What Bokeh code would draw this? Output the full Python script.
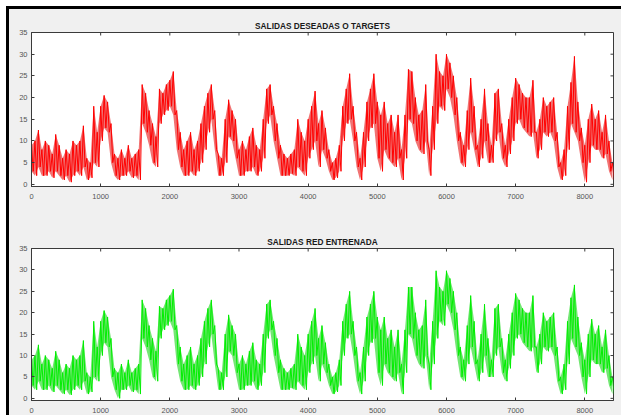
from bokeh.plotting import figure
from bokeh.layouts import column
from bokeh.models import Range1d, LinearAxis, FixedTicker, Title
from bokeh.embed import file_html
from bokeh.resources import INLINE

# Sample index step of the min/max readings (each bin: max, then min)
STEP = 50
X_MAX = 8415
Y_MIN, Y_MAX = -0.5, 35
x_ticks = [0, 1000, 2000, 3000, 4000, 5000, 6000, 7000, 8000]
y_ticks = [0, 5, 10, 15, 20, 25, 30, 35]

# SALIDAS DESEADAS O TARGETS (red) - per-bin max and min, x = 0, 50, ..., 8400
target_hi = [
    9, 10, 12.5, 8, 10, 9, 7, 11.5, 9, 6,
    8, 7, 10, 9, 10, 13.5, 6, 5, 18, 12,
    18, 20.5, 19, 14, 7, 6, 8, 6, 9, 6,
    7, 8, 23, 21, 17, 14, 11, 22, 21, 23,
    24, 26, 17, 12, 8, 10, 12, 8, 10, 14,
    18, 21, 23, 17, 7, 6, 15, 19.5, 17, 15,
    8, 10, 8, 11, 13, 9, 8, 15, 22, 23,
    18, 14, 9, 7, 6, 7, 8, 15, 12, 10,
    15, 18, 21.5, 14, 17, 13, 8, 5, 6, 9,
    18, 22, 25.5, 18, 12, 6, 12, 19, 22, 25.5,
    19, 16, 19, 14, 16, 12, 16, 8, 16, 26.5,
    26, 20, 16, 17, 23, 8, 18, 30, 26, 25,
    30, 28, 25, 20, 12, 9, 17, 24.5, 18, 9,
    15, 22, 14, 9, 21, 22, 14, 9, 15, 20,
    24.5, 23, 21, 20, 20, 24, 12, 15, 20, 18,
    19, 20, 12, 5, 8, 18, 23.5, 29.5, 19, 13,
    9, 15, 18.5, 15, 17, 12, 16, 10, 5,
]
target_lo = [
    3, 2, 4, 2, 2, 3, 1.5, 3, 2, 1,
    2, 0.5, 2, 3, 2, 4, 1, 1.5, 5, 4,
    10, 13, 12, 5, 2, 1, 2, 2, 3, 1.5,
    2, 1, 14, 12, 9, 5, 4, 14, 16, 17,
    18, 16, 8, 4, 2, 2, 3, 2, 3, 5,
    8, 12, 15, 8, 2, 2, 5, 11, 10, 6,
    2, 2, 3, 3, 4, 2, 3, 6, 14, 16,
    10, 6, 2, 2, 2, 2.5, 2, 4, 3, 2,
    6, 8, 10, 4, 8, 6, 3, 1, 1.5, 3,
    10, 14, 15, 10, 4, 1, 4, 10, 13, 14,
    6, 3, 8, 6, 5, 4, 6, 1, 6, 15,
    14, 10, 8, 7, 10, 2, 8, 14, 18, 17,
    22, 20, 16, 10, 5, 4, 8, 12, 8, 4,
    6, 10, 5, 5, 10, 12, 6, 4, 7, 10,
    14, 15, 13, 12, 11, 12, 6, 8, 12, 11,
    12, 10, 4, 1, 2, 8, 14, 12, 10, 5,
    0.5, 5, 9, 8, 8, 6, 7, 3, 1,
]

# SALIDAS RED ENTRENADA (green) - per-bin max and min
output_hi = [
    9, 10, 12.5, 8, 10, 9, 7, 11, 9, 6,
    8, 7, 10, 9, 10, 13.5, 6, 5, 18, 12,
    18, 20.5, 19, 14, 7, 6, 8, 6, 9, 6,
    7, 8, 23, 21, 17, 14, 11, 21.5, 21, 23,
    24, 25.5, 17, 12, 8, 10, 12, 8, 10, 14,
    18, 21, 23, 17, 7, 6, 15, 19.5, 17, 15,
    8, 10, 8, 11, 13, 9, 8, 15, 22, 23,
    18, 14, 9, 7, 6, 7, 8, 15, 12, 10,
    15, 18, 21, 14, 17, 13, 8, 5, 6, 9,
    18, 22, 25, 18, 12, 6, 12, 19, 22, 25,
    19, 16, 19, 14, 16, 12, 16, 8, 16, 26,
    26, 20, 16, 17, 23, 8, 18, 29.8, 26, 25,
    29.8, 28, 25, 20, 12, 9, 17, 24, 18, 9,
    15, 22, 14, 9, 21, 22, 14, 9, 15, 20,
    24.5, 23, 21, 20, 20, 24, 12, 15, 20, 18,
    19, 20, 12, 5, 8, 18, 23.5, 26.5, 19, 13,
    9, 15, 18.5, 15, 17, 12, 16, 10, 5,
]
output_lo = [
    3, 2, 4, 2, 2, 3, 1.5, 3, 2, 1,
    2, 0.8, 2, 3, 2, 4, 1, 1.5, 5, 4,
    10, 13, 12, 5, 2, 0, 2, 2, 3, 1.5,
    2, 1, 14, 12, 9, 5, 4, 14, 16, 17,
    18, 16, 8, 4, 2, 2, 3, 2, 3, 5,
    8, 12, 15, 8, 2, 2, 5, 11, 10, 6,
    2, 2, 3, 3, 4, 2, 3, 6, 14, 16,
    10, 6, 2, 2, 2, 2.5, 2, 4, 3, 2,
    6, 8, 10, 4, 8, 6, 3, 1, 1.5, 3,
    10, 14, 15, 10, 4, 1, 4, 10, 13, 14,
    6, 3, 8, 6, 5, 4, 6, 1, 6, 15,
    14, 10, 8, 7, 10, 2, 8, 14, 18, 17,
    22, 20, 16, 10, 5, 4, 8, 12, 8, 4,
    6, 10, 5, 5, 10, 12, 6, 4, 7, 10,
    14, 15, 13, 12, 11, 12, 6, 8, 12, 11,
    12, 10, 4, 1, 2, 8, 14, 12, 10, 5,
    1, 5, 9, 8, 8, 6, 7, 3, 1,
]


def zigzag(hi, lo):
    xs, ys = [], []
    for i, (h, l) in enumerate(zip(hi, lo)):
        xs += [i * STEP, i * STEP + STEP / 2]
        ys += [h, l]
    return xs, ys


TICK_COLOR = "#3a3a3a"
LABEL_COLOR = "#555555"


def make(title, hi, lo, color, fill, height, b_top, b_bottom):
    p = figure(width=612, height=height, x_range=Range1d(0, X_MAX), y_range=Range1d(Y_MIN, Y_MAX),
               output_backend="svg", toolbar_location=None,
               min_border_left=22, min_border_right=8,
               min_border_top=b_top, min_border_bottom=b_bottom,
               x_axis_location=None, y_axis_location=None)
    p.border_fill_color = "#f0f0f0"
    p.background_fill_color = "white"
    p.outline_line_color = TICK_COLOR
    p.grid.visible = False

    xb = LinearAxis(ticker=FixedTicker(ticks=x_ticks))
    yl = LinearAxis(ticker=FixedTicker(ticks=y_ticks))
    for ax in (xb, yl):
        ax.axis_line_color = TICK_COLOR
        ax.major_tick_line_color = TICK_COLOR
        ax.major_tick_in = 3
        ax.major_tick_out = 0
        ax.minor_tick_line_color = None
        ax.major_label_text_font = "Liberation Sans"
        ax.major_label_text_color = LABEL_COLOR
        ax.major_label_text_font_size = "7.5px"
    xb.major_label_standoff = 7
    yl.major_label_standoff = 4
    p.add_layout(xb, "below")
    p.add_layout(yl, "left")

    t = Title(text=title, align="center", text_font="Liberation Sans", text_font_style="bold",
              text_font_size="8.3px", text_color="#1a1a1a", standoff=3)
    p.add_layout(t, "above")

    xs = [i * STEP for i in range(len(hi))]
    p.varea(x=xs, y1=lo, y2=hi, fill_color=fill, fill_alpha=0.55)
    zx, zy = zigzag(hi, lo)
    p.line(zx, zy, line_color=color, line_width=1)

    # box ticks on top and right edges (inward)
    p.ray(x=x_ticks, y=[Y_MAX] * len(x_ticks), length=3, length_units="screen",
          angle=-90, angle_units="deg", line_color=TICK_COLOR, line_width=1)
    p.ray(x=[X_MAX] * len(y_ticks), y=y_ticks, length=3, length_units="screen",
          angle=180, angle_units="deg", line_color=TICK_COLOR, line_width=1)
    return p


p1 = make("SALIDAS DESEADAS O TARGETS", target_hi, target_lo, "#ff0000", "#e60000", 208, 23, 31)
p2 = make("SALIDAS RED ENTRENADA", output_hi, output_lo, "#00ee00", "#00d400", 198, 31, 15)

layout = column(p1, p2, margin=(6, 0, 0, 6), spacing=0,
                styles={"border-top": "3px solid black", "border-left": "3px solid black",
                        "background-color": "#f0f0f0"})

open("out.html", "w").write(file_html(layout, INLINE))
